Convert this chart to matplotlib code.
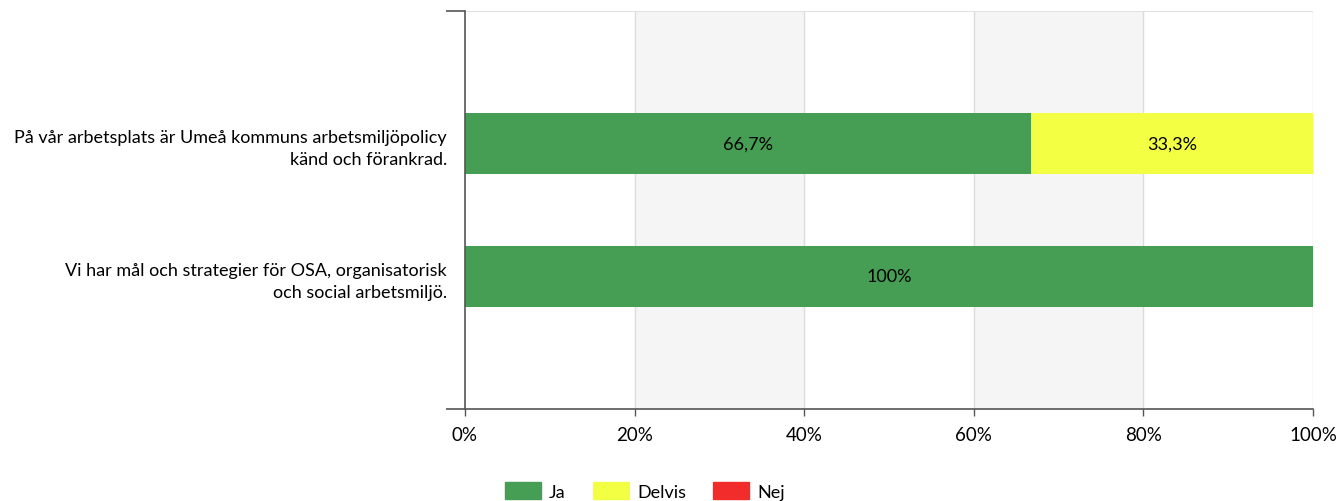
import numpy as np
import matplotlib.pyplot as plt
from matplotlib.patches import Patch

# data
questions = ['På vår arbetsplats är Umeå kommuns arbetsmiljöpolicy\nkänd och förankrad.',
             'Vi har mål och strategier för OSA, organisatorisk\noch social arbetsmiljö.']
series = ['Ja', 'Delvis', 'Nej']
ja = [66.7, 100.0]
delvis = [33.3, 0.0]
nej = [0.0, 0.0]
colors = ['#459E54', '#F2FF42', '#F22B2B']
xticks = [0, 20, 40, 60, 80, 100]

plt.rcParams['font.family'] = ['Lato', 'DejaVu Sans']
FS = 13


def fmt(v):
    s = ('%.1f' % v).rstrip('0').rstrip('.')
    return s.replace('.', ',') + '%'


fig = plt.figure(figsize=(13.37, 5.02), dpi=100)
ax = fig.add_axes([465 / 1337, 1 - 410 / 502, (1313 - 465) / 1337, 398 / 502])

# shaded bands and grid
for lo in (20, 60):
    ax.axvspan(lo, lo + 20, color='#F5F5F5', zorder=0)
for x in xticks[1:]:
    ax.axvline(x, color='#DCDCDC', lw=1, zorder=1)
ax.axhline(2, color='#DCDCDC', lw=1.2, zorder=1)

ypos = np.array([1, 0])
left = np.zeros(len(ypos))
for name, vals, c in zip(series, [ja, delvis, nej], colors):
    vals = np.array(vals)
    ax.barh(ypos, vals, left=left, height=0.46, color=c, zorder=2)
    for y, l, v in zip(ypos, left, vals):
        if v > 0:
            ax.text(l + v / 2, y, fmt(v), ha='center', va='center', fontsize=FS, zorder=3)
    left = left + vals

ax.set_xlim(0, 100)
ax.set_ylim(-1, 2)
ax.set_xticks(xticks)
ax.set_xticklabels(['%d%%' % t for t in xticks], fontsize=FS + 0.5)
ax.tick_params(axis='x', length=5, width=1, color='#555555', pad=7)

ax.set_yticks([-1, 2])
ax.set_yticklabels(['', ''])
ax.set_yticks(ypos, minor=True)
ax.set_yticklabels(questions, minor=True, fontsize=FS, ha='right', linespacing=1.45)
ax.tick_params(axis='y', which='minor', length=0, pad=13)
ax.tick_params(axis='y', which='major', length=14, width=1.2, color='#555555')

for s in ['top', 'right']:
    ax.spines[s].set_visible(False)
for s in ['left', 'bottom']:
    ax.spines[s].set_color('#555555')
    ax.spines[s].set_linewidth(1.2)

handles = [Patch(color=c, label=n) for n, c in zip(series, colors)]
fig.legend(handles=handles, loc='center', bbox_to_anchor=(645 / 1337, 1 - 492 / 502),
           ncol=3, frameon=False, fontsize=FS, handlelength=2.0, handleheight=1.0,
           columnspacing=1.5, handletextpad=0.45, borderpad=0)

fig.savefig('out.png', dpi=100)
